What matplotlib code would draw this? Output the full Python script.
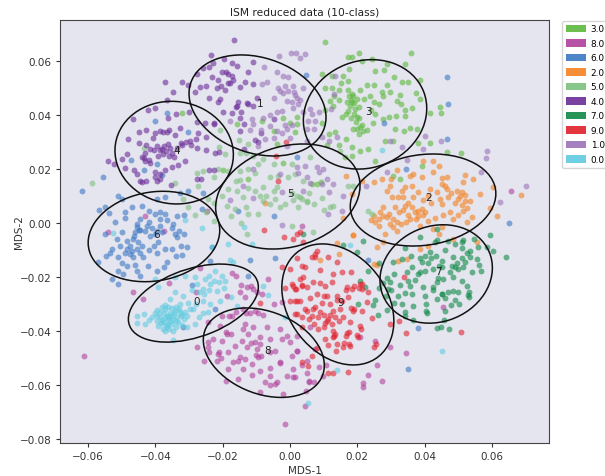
import matplotlib
matplotlib.use("Agg")
import matplotlib.pyplot as plt
from matplotlib.patches import Ellipse, Patch
import numpy as np

# points, one list per class
class_3 = [(.0103,.0673),(.0173,.0617),(.0183,.0614),(.0206,.0632),(.0358,.0630),(.0342,.0590),(.0289,.0590),(.0243,.0609),(.0213,.0602),(.0095,.0553),(.0124,.0544),(.0176,.0570),(.0252,.0565),(.0280,.0567),(.0158,.0544),(.0173,.0528),(.0310,.0541),(.0332,.0522),(.0351,.0522),(.0386,.0531),(.0124,.0499),(.0144,.0492),(.0173,.0495),(.0208,.0495),(.0228,.0512),(.0248,.0511),(.0287,.0511),(.0188,.0472),(.0238,.0472),(.0272,.0485),(.0297,.0485),(.0327,.0476),(.0374,.0481),(.0386,.0460),(.0119,.0451),(.0129,.0435),(.0183,.0448),(.0193,.0423),(.0173,.0417),(.0317,.0454),(.0361,.0425),(.0444,.0429),(.0416,.0408),(.0448,.0408),(.0315,.0398),(.0342,.0398),(.0252,.0404),(.0198,.0392),(.0153,.0392),(.0208,.0355),(.0218,.0342),(.0188,.0349),(.0246,.0371),(.0312,.0349),(.0337,.0343),(.0356,.0353),(.0376,.0349),(.0282,.0306),(.0307,.0306),(.0381,.0296),(.0416,.0296),(.0206,.0330),(.0134,.0336),(.0117,.0330),(.0208,.0268),(.0233,.0275),(.0183,.0281),(.0183,.0250),(.0163,.0246),(.0252,.0231),(.0465,.0262),(.0507,.0260),(.0079,.0145),(.0064,.0145),(.0091,.0151),(.0307,.0176),(.0327,.0163),(.0391,.0213),(.0015,.0336),(-.0321,.0409),(-.0158,.0366),(-.0084,.0378),(-.0020,.0390),(.0022,.0393),(.0020,.0366),(-.0047,.0341),(.0000,.0372),(-.0040,.0294),(-.0022,.0224),(-.0124,.0163),(-.0200,.0197),
           (.0175,.0470),(.0182,.0455),(.0190,.0445),(.0178,.0435),(.0170,.0450),(.0185,.0480),(.0200,.0460),(.0205,.0430),(.0190,.0405),(.0180,.0390),(.0195,.0375),(.0205,.0390),(.0165,.0405),(.0215,.0365),(.0200,.0350),(.0230,.0345),(.0220,.0460),(.0250,.0450),(.0265,.0440),(.0275,.0470),(.0145,.0455),(.0130,.0470),(.0105,.0420),(.0095,.0370),(.0110,.0290),(.0145,.0290),(.0165,.0310),(.0240,.0420),(.0330,.0440),(.0340,.0420),(.0295,.0395),(.0275,.0385),(.0105,.0500),(.0150,.0520)]
class_8 = [(-.0611,-.0492),(-.0277,-.0461),(-.0254,-.0511),(-.0243,-.0461),(-.0467,-.0257),(-.0436,-.0282),(-.0360,-.0224),(-.0280,-.0257),(-.0267,-.0167),(-.0173,-.0187),(-.0161,-.0195),(-.0109,-.0245),(-.0129,-.0239),(-.0188,-.0270),(-.0149,-.0257),(-.0134,-.0276),(-.0099,-.0257),(-.0084,-.0263),(-.0243,-.0369),(-.0208,-.0381),(-.0173,-.0344),(-.0203,-.0344),(-.0119,-.0332),(-.0094,-.0332),(-.0064,-.0208),(-.0049,-.0300),(-.0025,-.0294),(-.0139,-.0393),(-.0109,-.0387),(-.0069,-.0387),(-.0188,-.0412),(-.0228,-.0431),(-.0203,-.0439),(-.0163,-.0455),(-.0144,-.0437),(-.0089,-.0424),(-.0059,-.0431),(-.0025,-.0431),(.0000,-.0443),(-.0129,-.0461),(-.0099,-.0468),(.0020,-.0474),(-.0213,-.0486),(-.0183,-.0480),(-.0149,-.0498),(-.0094,-.0498),(-.0045,-.0474),(.0005,-.0492),(-.0218,-.0511),(-.0168,-.0517),(-.0114,-.0523),(-.0030,-.0517),(.0035,-.0526),(-.0183,-.0541),(-.0139,-.0541),(-.0089,-.0548),(-.0059,-.0536),(-.0010,-.0566),(.0010,-.0570),(-.0112,-.0563),(-.0154,-.0579),(-.0191,-.0585),(-.0059,-.0566),(-.0074,-.0591),(-.0045,-.0597),(-.0089,-.0628),(-.0020,-.0634),(.0045,-.0678),(-.0015,-.0745),(.0055,-.0585),(.0050,-.0511),(.0020,-.0476),(.0008,-.0542),(.0015,-.0570),(.0050,-.0557),(.0057,-.0589),(.0071,-.0588),(.0046,-.0622),(.0097,-.0567),(.0086,-.0533),(.0107,-.0526),(.0020,-.0418),(.0059,-.0387),(.0074,-.0468),(.0252,-.0437),(.0297,-.0461),(.0345,-.0484),(.0259,-.0526),(.0233,-.0563),(.0272,-.0585),(.0218,-.0595),(.0218,-.0607),(.0453,-.0313),(.0208,-.0424),(-.0432,.0027),(-.0247,.0043),(-.0539,-.0035),(.0655,.0118),(.0035,-.0010),(-.0374,-.0028),
           (-.0180,-.0345),(-.0160,-.0330),(-.0140,-.0320),(-.0130,-.0335),(-.0105,-.0325),(-.0080,-.0340),(-.0190,-.0405),(-.0175,-.0410),(-.0135,-.0375),(-.0125,-.0410),(-.0115,-.0445),(-.0105,-.0440),(-.0090,-.0450),(-.0100,-.0490),(-.0085,-.0495),(-.0060,-.0480),(-.0030,-.0520),(-.0040,-.0590),(-.0060,-.0600),(-.0210,-.0480),(-.0205,-.0500),(-.0240,-.0480),(-.0245,-.0440),(-.0135,-.0505),(-.0155,-.0510),(-.0030,-.0395),(-.0010,-.0420),(-.0115,-.0235),(-.0145,-.0230)]
class_6 = [(-.0618,.0119),(-.0556,.0171),(-.0512,.0099),(-.0499,.0089),(-.0566,.0049),(-.0549,.0060),(-.0537,.0037),(-.0519,.0002),(-.0490,.0018),(-.0470,.0058),(-.0445,.0015),(-.0455,-.0016),(-.0460,-.0035),(-.0425,-.0010),(-.0401,.0033),(-.0386,.0039),(-.0371,.0033),(-.0336,.0027),(-.0316,.0030),(-.0346,-.0004),(-.0386,-.0010),(-.0401,-.0041),(-.0341,-.0041),(-.0314,-.0041),(-.0440,.0064),(-.0396,.0089),(-.0371,.0097),(-.0326,.0113),(-.0302,.0119),(-.0257,.0113),(-.0262,.0052),(-.0472,.0234),(-.0396,.0218),(-.0381,.0179),(-.0435,.0197),(-.0402,.0378),(-.0366,.0409),(-.0302,.0337),(-.0154,.0046),(-.0049,.0027),(.0020,.0243),(.0047,.0550),(-.0569,-.0146),(-.0545,-.0121),(-.0530,-.0096),(-.0505,-.0084),(-.0483,-.0065),(-.0463,-.0047),(-.0550,-.0041),(-.0448,-.0026),(-.0416,-.0047),(-.0391,-.0072),(-.0371,-.0096),(-.0337,-.0053),(-.0307,-.0090),(-.0340,-.0121),(-.0366,-.0146),(-.0475,-.0115),(-.0465,-.0127),(-.0510,-.0127),(-.0485,-.0158),(-.0436,-.0125),(-.0421,-.0158),(-.0455,-.0177),(-.0510,-.0177),(-.0495,-.0189),(-.0530,-.0208),(-.0512,-.0226),(-.0446,-.0195),(-.0396,-.0177),(-.0292,-.0230),(-.0238,-.0140),(-.0119,-.0137),(-.0045,-.0130),(-.0126,-.0195),(-.0223,-.0319),(-.0317,-.0384),(-.0233,-.0090),(.0467,.0541),(.0469,.0442),(.0467,.0313),(.0280,.0370),(.0345,.0199),(.0651,-.0001),(.0233,-.0136),(.0350,-.0541),(.0379,-.0391),
           (-.0455,-.0005),(-.0445,-.0025),(-.0430,-.0030),(-.0410,-.0020),(-.0395,-.0030),(-.0380,-.0035),(-.0420,.0005),(-.0385,.0015),(-.0365,.0010),(-.0350,-.0020),(-.0465,-.0060),(-.0450,-.0070),(-.0440,-.0085),(-.0475,-.0085),(-.0485,-.0095),(-.0470,-.0105),(-.0455,-.0095),(-.0490,-.0110),(-.0445,-.0110),(-.0420,-.0100),(-.0405,-.0085),(-.0395,-.0110),(-.0350,-.0095),(-.0325,-.0085),(-.0330,-.0030),(-.0500,-.0035),(-.0515,-.0060),(-.0535,-.0110),(-.0500,-.0150),(-.0460,-.0155),(-.0375,-.0165),(-.0320,-.0120),(-.0490,.0040),(-.0420,.0045)]
class_2 = [(.0426,.0231),(.0396,.0231),(.0441,.0213),(.0426,.0190),(.0319,.0197),(.0356,.0176),(.0391,.0169),(.0520,.0178),(.0166,.0173),(.0213,.0157),(.0250,.0151),(.0272,.0163),(.0450,.0167),(.0465,.0169),(.0543,.0165),(.0515,.0151),(.0297,.0139),(.0342,.0132),(.0361,.0139),(.0416,.0126),(.0460,.0139),(.0604,.0133),(.0287,.0120),(.0332,.0120),(.0381,.0114),(.0495,.0120),(.0510,.0114),(.0564,.0108),(.0686,.0105),(.0183,.0108),(.0302,.0098),(.0322,.0095),(.0366,.0098),(.0446,.0089),(.0470,.0095),(.0500,.0089),(.0520,.0083),(.0277,.0058),(.0312,.0058),(.0342,.0064),(.0361,.0058),(.0391,.0052),(.0401,.0040),(.0381,.0027),(.0515,.0046),(.0594,.0054),(.0614,.0027),(.0156,.0019),(.0248,.0027),(.0267,.0040),(.0287,.0021),(.0252,.0002),(.0317,.0002),(.0297,-.0004),(.0356,.0015),(.0411,.0009),(.0485,.0015),(.0525,.0002),(.0186,-.0045),(.0282,-.0041),(.0317,-.0028),(.0386,-.0010),(.0426,-.0022),(.0450,-.0016),(.0540,.0021),(.0139,-.0075),(.0186,-.0044),(.0144,-.0115),(.0089,-.0137),(.0248,-.0152),(.0259,-.0155),(.0259,-.0090),(.0275,-.0072),(.0322,-.0140),(.0347,-.0134),(.0441,-.0041),(.0485,-.0059),(.0554,-.0072),(.0386,-.0096),(.0411,-.0084),(-.0074,.0076),
           (.0265,.0015),(.0275,.0025),(.0295,.0035),(.0305,.0015),(.0325,.0040),(.0335,.0050),(.0350,.0030),(.0370,.0040),(.0380,.0045),(.0395,.0030),(.0375,.0015),(.0345,.0005),(.0330,-.0005),(.0305,-.0015),(.0265,-.0012),(.0240,.0010),(.0450,.0145),(.0465,.0125),(.0478,.0110),(.0490,.0075),(.0505,.0100),(.0520,.0105),(.0535,.0080),(.0510,.0065),(.0525,.0055),(.0450,.0070),(.0420,.0075),(.0410,.0100),(.0435,.0115),(.0395,.0085),(.0335,.0095),(.0350,.0075),(.0300,.0165),(.0365,.0180),(.0475,.0040),(.0500,.0030),(.0455,.0030),(.0430,.0020)]
class_5 = [(-.0587,.0148),(-.0435,.0280),(-.0208,.0344),(-.0151,.0307),(-.0124,.0294),(-.0211,.0282),(-.0193,.0255),(-.0277,.0187),(-.0257,.0193),(-.0227,.0169),(-.0343,.0150),(-.0272,.0138),(-.0317,.0089),(-.0282,.0030),(-.0227,.0009),(-.0302,.0058),(-.0183,.0193),(-.0148,.0193),(-.0124,.0200),(-.0104,.0187),(-.0079,.0236),(-.0049,.0218),(-.0079,.0132),(-.0049,.0119),(-.0040,.0132),(-.0183,.0126),(-.0158,.0119),(-.0202,.0101),(-.0188,.0064),(-.0163,.0052),(-.0124,.0033),(-.0089,.0101),(-.0079,.0083),(-.0030,.0058),(.0005,-.0010),(-.0129,-.0041),(.0030,.0095),(.0049,.0083),(-.0005,.0169),(.0040,.0156),(.0020,.0101),(.0035,.0089),(.0050,.0077),(.0094,.0092),(.0129,.0064),(.0119,.0058),(.0015,.0182),(.0059,.0244),(.0149,.0268),(.0188,.0139),(.0173,.0139),(.0069,-.0035),(.0233,.0046),(.0243,.0033),
           (-.0150,.0260),(-.0130,.0260),(-.0110,.0250),(-.0095,.0220),(-.0160,.0155),(-.0125,.0130),(-.0105,.0120),(-.0070,.0100),(-.0060,.0070),(-.0045,.0090),(-.0015,.0070),(.0005,.0110),(.0010,.0085),(.0025,.0060),(.0055,.0110),(.0070,.0070),(-.0140,.0095),(-.0130,.0060),(-.0175,.0025),(-.0145,.0000),(-.0095,.0035),(-.0060,.0170),(-.0035,.0175),(.0005,.0220),(-.0150,.0160),(-.0215,.0200),(-.0245,.0090),(-.0225,.0075),(-.0250,.0040),(.0100,.0050)]
class_4 = [(-.0371,.0522),(-.0348,.0486),(-.0321,.0522),(-.0302,.0511),(-.0366,.0456),(-.0401,.0427),(-.0423,.0421),(-.0465,.0387),(-.0480,.0313),(-.0483,.0257),(-.0499,.0236),(-.0539,.0230),(-.0522,.0218),(-.0490,.0203),(-.0462,.0196),(-.0455,.0181),(-.0440,.0153),(-.0427,.0156),(-.0401,.0169),(-.0386,.0163),(-.0371,.0197),(-.0351,.0208),(-.0334,.0216),(-.0353,.0140),(-.0312,.0230),(-.0277,.0165),(-.0264,.0163),(-.0242,.0197),(-.0227,.0196),(-.0223,.0261),(-.0210,.0264),(-.0250,.0271),(-.0277,.0280),(-.0297,.0304),(-.0321,.0289),(-.0341,.0326),(-.0366,.0337),(-.0378,.0339),(-.0401,.0335),(-.0406,.0317),(-.0428,.0345),(-.0447,.0337),(-.0449,.0298),(-.0427,.0288),(-.0415,.0273),(-.0440,.0245),(-.0430,.0230),(-.0415,.0224),(-.0381,.0273),(-.0378,.0255),(-.0391,.0249),(-.0361,.0292),(-.0326,.0353),(-.0361,.0390),(-.0338,.0405),(-.0277,.0376),(-.0252,.0372),(-.0227,.0369),(-.0272,.0335),(-.0250,.0320),(-.0166,.0680),(-.0234,.0624),(-.0196,.0608),(-.0173,.0594),(-.0158,.0584),(-.0111,.0596),(-.0230,.0594),(-.0242,.0578),(-.0257,.0575),(-.0277,.0553),(-.0232,.0541),(-.0202,.0559),(-.0183,.0553),(-.0173,.0544),(-.0126,.0559),(-.0215,.0532),(-.0178,.0520),(-.0148,.0505),(-.0134,.0522),(-.0109,.0514),(-.0267,.0505),(-.0250,.0510),(-.0282,.0486),(-.0217,.0499),(-.0193,.0495),(-.0242,.0462),(-.0208,.0461),(-.0158,.0433),(-.0129,.0446),(-.0099,.0464),(-.0198,.0411),(-.0173,.0409),(-.0150,.0390),(-.0109,.0433),(-.0227,.0372),(-.0138,.0366),(-.0086,.0335),(-.0049,.0384),(-.0138,.0276),(-.0104,.0307),
           (-.0395,.0285),(-.0385,.0270),(-.0375,.0285),(-.0368,.0268),(-.0360,.0250),(-.0345,.0245),(-.0355,.0280),(-.0335,.0280),(-.0325,.0295),(-.0310,.0300),(-.0350,.0260),(-.0405,.0270),(-.0430,.0260),(-.0435,.0240),(-.0420,.0235),(-.0400,.0190),(-.0385,.0180),(-.0445,.0155),(-.0395,.0155),(-.0385,.0340),(-.0360,.0345),(-.0295,.0290),(-.0280,.0310),(-.0300,.0410),(-.0190,.0560),(-.0205,.0510),(-.0170,.0530),(-.0160,.0430),(-.0145,.0410),(-.0185,.0520),(-.0155,.0450),(-.0215,.0450),(-.0125,.0440),(-.0150,.0340),(-.0095,.0300)]
class_7 = [(.0594,-.0044),(.0642,-.0126),(.0604,-.0105),(.0584,-.0090),(.0559,-.0088),(.0545,-.0059),(.0515,-.0063),(.0490,-.0078),(.0510,-.0093),(.0535,-.0103),(.0460,-.0100),(.0436,-.0022),(.0436,-.0063),(.0386,-.0051),(.0342,-.0093),(.0359,-.0121),(.0401,-.0121),(.0434,-.0121),(.0416,-.0109),(.0391,-.0146),(.0450,-.0140),(.0485,-.0127),(.0535,-.0127),(.0307,-.0146),(.0332,-.0134),(.0361,-.0162),(.0347,-.0180),(.0381,-.0189),(.0401,-.0179),(.0424,-.0171),(.0441,-.0158),(.0475,-.0183),(.0500,-.0171),(.0515,-.0165),(.0566,-.0177),(.0540,-.0183),(.0485,-.0202),(.0455,-.0208),(.0436,-.0220),(.0510,-.0214),(.0289,-.0204),(.0297,-.0220),(.0327,-.0230),(.0349,-.0216),(.0356,-.0233),(.0394,-.0239),(.0426,-.0236),(.0525,-.0233),(.0485,-.0251),(.0500,-.0257),(.0277,-.0224),(.0265,-.0241),(.0342,-.0261),(.0361,-.0263),(.0401,-.0270),(.0450,-.0263),(.0470,-.0257),(.0530,-.0276),(.0436,-.0282),(.0477,-.0303),(.0503,-.0300),(.0366,-.0307),(.0332,-.0300),(.0309,-.0296),(.0203,-.0300),(.0252,-.0286),(.0246,-.0304),(.0287,-.0323),(.0262,-.0340),(.0342,-.0346),(.0408,-.0332),(.0460,-.0325),(.0364,-.0360),(.0436,-.0391),(.0448,-.0387),(.0473,-.0392),(.0457,-.0359),(.0208,-.0216),(.0233,-.0177),(.0292,-.0245),(.0223,-.0239),(.0156,-.0080),(.0198,-.0109),(.0218,-.0068),(.0040,-.0041),
           (.0480,-.0160),(.0490,-.0165),(.0495,-.0150),(.0450,-.0165),(.0420,-.0130),(.0410,-.0150),(.0385,-.0130),(.0510,-.0130),(.0525,-.0110),(.0520,-.0145),(.0560,-.0155),(.0555,-.0135),(.0530,-.0255),(.0528,-.0268),(.0452,-.0262),(.0440,-.0205),(.0425,-.0250),(.0405,-.0325),(.0405,-.0300),(.0340,-.0330),(.0300,-.0250),(.0320,-.0270),(.0285,-.0270),(.0310,-.0190),(.0265,-.0150),(.0370,-.0210),(.0385,-.0180),(.0510,-.0070),(.0470,-.0065),(.0430,-.0070),(.0460,-.0280),(.0490,-.0285)]
class_9 = [(.0030,-.0035),(.0010,-.0059),(.0040,-.0072),(.0074,-.0115),(.0114,-.0127),(.0064,-.0127),(.0139,-.0146),(.0035,-.0158),(.0089,-.0174),(.0129,-.0189),(.0155,-.0180),(.0181,-.0183),(.0030,-.0208),(.0040,-.0202),(.0069,-.0220),(.0089,-.0224),(.0104,-.0233),(.0124,-.0220),(.0010,-.0233),(.0018,-.0245),(.0050,-.0239),(.0168,-.0239),(.0183,-.0245),(.0208,-.0226),(.0213,-.0245),(.0079,-.0263),(.0109,-.0270),(.0139,-.0270),(.0233,-.0257),(.0030,-.0288),(.0015,-.0288),(.0094,-.0297),(.0119,-.0300),(.0173,-.0276),(.0228,-.0294),(.0069,-.0319),(.0050,-.0325),(.0129,-.0325),(.0149,-.0319),(.0188,-.0325),(.0213,-.0328),(.0020,-.0338),(.0084,-.0350),(.0114,-.0356),(.0158,-.0350),(.0178,-.0369),(.0243,-.0354),(.0104,-.0372),(.0035,-.0387),(.0084,-.0393),(.0129,-.0400),(.0168,-.0409),(.0208,-.0381),(.0297,-.0375),(.0325,-.0365),(.0343,-.0408),(.0508,-.0406),(.0129,-.0424),(.0203,-.0424),(.0178,-.0455),(.0104,-.0431),(.0139,-.0449),(.0158,-.0461),(.0137,-.0476),(.0248,-.0461),(.0079,-.0465),(.0064,-.0495),(.0114,-.0451),(.0035,-.0517),(.0054,-.0529),(.0112,-.0558),(.0127,-.0558),(.0173,-.0553),(.0339,-.0199),(-.0077,-.0026),(-.0037,.0157),(.0020,-.0041),(-.0013,.0301),(-.0042,.0250),(-.0018,-.0053),(-.0025,-.0165),(.0005,-.0226),(.0015,-.0245),(.0035,-.0233),(.0000,-.0291),(.0020,-.0288),(.0035,-.0350),(-.0089,-.0295),(.0045,-.0165),(.0015,-.0338),
           (.0100,-.0340),(.0110,-.0365),(.0120,-.0340),(.0135,-.0350),(.0145,-.0365),(.0100,-.0385),(.0125,-.0375),(.0135,-.0410),(.0130,-.0420),(.0165,-.0420),(.0175,-.0405),(.0160,-.0445),(.0175,-.0450),(.0200,-.0415),(.0210,-.0395),(.0190,-.0320),(.0180,-.0315),(.0165,-.0250),(.0190,-.0235),(.0205,-.0240),(.0215,-.0225),(.0100,-.0270),(.0075,-.0125),(.0080,-.0105),(.0140,-.0285),(.0155,-.0290),(.0060,-.0280),(.0075,-.0310),(.0090,-.0330),(.0065,-.0345),(.0055,-.0355),(.0070,-.0375),(.0045,-.0320),(.0035,-.0230),(.0255,-.0450),(-.0015,-.0240),(.0000,-.0170),(.0020,-.0130)]
class_1 = [(-.0033,.0618),(.0002,.0629),(.0017,.0630),(.0045,.0627),(.0030,.0612),(-.0077,.0578),(-.0040,.0560),(-.0020,.0544),(-.0005,.0541),(-.0069,.0523),(-.0084,.0516),(-.0030,.0491),(-.0020,.0483),(.0010,.0507),(.0038,.0501),(-.0049,.0464),(.0020,.0464),(-.0010,.0452),(-.0040,.0413),(-.0025,.0415),(.0010,.0425),(-.0114,.0384),(-.0109,.0366),(-.0079,.0388),(-.0025,.0335),(-.0010,.0347),(.0000,.0314),(-.0049,.0316),(-.0119,.0344),(-.0094,.0286),(-.0010,.0286),(.0049,.0304),(.0020,.0206),(.0025,.0184),(.0049,.0169),(-.0178,.0378),(-.0109,.0200),(-.0140,.0138),(-.0178,.0086),(-.0109,.0091),(-.0025,-.0007),(.0134,.0547),(.0121,.0423),(.0059,.0423),(.0064,.0404),(.0074,.0380),(.0054,.0380),(.0030,.0456),(.0012,.0485),(.0117,.0306),(.0139,.0320),(.0332,.0283),(.0297,.0306),(.0396,.0275),(.0448,.0303),(.0401,.0324),(.0584,.0268),(.0581,.0241),(.0701,.0139),(.0624,.0077),(.0567,.0188),(.0347,.0234),(.0287,.0188),(.0226,.0136),(.0099,.0200),(.0079,.0209),(.0045,.0213),(.0114,.0033),(.0153,.0046),(.0158,.0102),(.0129,.0145),
           (.0005,.0450),(-.0035,.0500),(-.0015,.0510),(-.0005,.0490),(.0015,.0475),(.0025,.0440),(.0040,.0410),(.0050,.0350),(.0005,.0365),(-.0015,.0365),(-.0060,.0400),(-.0085,.0345),(-.0075,.0310),(.0070,.0350),(.0085,.0410),(.0095,.0320),(.0085,.0190),(.0110,.0165),(.0095,.0145),(-.0030,.0180),(-.0025,.0115),(.0115,.0115),(.0060,.0150),(.0040,.0120),(-.0060,.0360),(-.0040,.0340),(.0130,.0480)]
class_0 = [(-.0525,-.0038),(-.0183,-.0078),(-.0114,-.0078),(-.0233,-.0090),(-.0178,-.0137),(-.0168,-.0146),(-.0223,-.0177),(-.0253,-.0208),(-.0282,-.0202),(-.0312,-.0195),(-.0342,-.0202),(-.0401,-.0208),(-.0391,-.0239),(-.0203,-.0195),(-.0238,-.0226),(-.0258,-.0245),(-.0218,-.0251),(-.0193,-.0214),(-.0342,-.0257),(-.0357,-.0282),(-.0317,-.0270),(-.0302,-.0295),(-.0327,-.0300),(-.0287,-.0319),(-.0381,-.0313),(-.0401,-.0332),(-.0371,-.0319),(-.0356,-.0332),(-.0342,-.0325),(-.0322,-.0338),(-.0366,-.0344),(-.0386,-.0350),(-.0347,-.0356),(-.0307,-.0344),(-.0376,-.0369),(-.0361,-.0375),(-.0332,-.0369),(-.0391,-.0381),(-.0371,-.0400),(-.0347,-.0400),(-.0307,-.0387),(-.0282,-.0375),(-.0455,-.0344),(-.0455,-.0372),(-.0431,-.0375),(-.0433,-.0337),(-.0347,-.0433),(-.0258,-.0332),(-.0238,-.0300),(-.0208,-.0288),(-.0158,-.0307),(-.0258,-.0288),(-.0079,-.0235),(-.0064,-.0267),(-.0015,-.0350),(.0054,-.0666),(.0139,-.0544),(.0450,-.0476),(.0178,-.0080),(.0274,.0271),(-.0312,.0011),(-.0262,-.0020),(-.0138,-.0016),(-.0375,-.0335),(-.0361,-.0355),(-.0350,-.0345),(-.0380,-.0360),(-.0335,-.0350),(-.0365,-.0385),(-.0350,-.0375),(-.0395,-.0345),(-.0330,-.0320),(-.0315,-.0355),
           (-.0395,-.0322),(-.0385,-.0330),(-.0372,-.0305),(-.0362,-.0312),(-.0350,-.0315),(-.0338,-.0310),(-.0328,-.0330),(-.0345,-.0335),(-.0358,-.0345),(-.0372,-.0352),(-.0383,-.0370),(-.0368,-.0378),(-.0355,-.0365),(-.0340,-.0362),(-.0325,-.0345),(-.0312,-.0330),(-.0298,-.0320),(-.0378,-.0392),(-.0358,-.0395),(-.0340,-.0385),(-.0322,-.0378),(-.0410,-.0350),(-.0420,-.0360),(-.0395,-.0365),(-.0270,-.0255),(-.0255,-.0265),(-.0240,-.0250),(-.0225,-.0215),(-.0210,-.0220),(-.0240,-.0195),(-.0275,-.0225),(-.0290,-.0250),(-.0195,-.0240),(-.0175,-.0275),(-.0280,-.0300),(-.0270,-.0350),(-.0245,-.0330)]

class_labels = ["3.0", "8.0", "6.0", "2.0", "5.0", "4.0", "7.0", "9.0", "1.0", "0.0"]
class_points = [class_3, class_8, class_6, class_2, class_5, class_4, class_7, class_9, class_1, class_0]
class_colors = ["#5cb83c", "#b0409a", "#3a78c2", "#f58220", "#7cc07c", "#6a2c96", "#0f8a46", "#e2202c", "#9a72b8", "#5fcbe0"]

# fitted clusters: centre, covariance terms, label spot
cluster_ids = [0, 1, 2, 3, 4, 5, 6, 7, 8, 9]
center_x = [-.0287, -.00965, .0395, .02228, -.0344, -.00065, -.0404, .0434, -.00778, .0142]
center_y = [-.0297, .0436, .00853, .0403, .0261, .00983, -.0050, -.0189, -.0481, -.0302]
extent_x = [.0193, .02034, .02162, .01832, .01758, .02144, .01954, .01669, .01797, .01663]
extent_y = [.01447, .01874, .01707, .0203, .01904, .01948, .01677, .01825, .01659, .02245]
cross = [1.147e-4, -9.0e-5, 5.07e-5, 4.04e-5, -1.4e-5, 8.7e-5, 4.48e-5, 3.8e-5, -8.5e-5, -1.03e-4]
label_x = [-.0276, -.0089, .0410, .0232, -.0336, .0000, -.0395, .0442, -.0068, .0151]
label_y = [-.0289, .0445, .0096, .0416, .0271, .0111, -.0041, -.0178, -.0471, -.0293]


def draw_cluster(ax, cx, cy, ex, ey, sxy):
    # ellipse from the covariance, same way a GMM plot does it
    vals, vecs = np.linalg.eigh([[ex ** 2, sxy], [sxy, ey ** 2]])
    angle = np.degrees(np.arctan2(vecs[1, 1], vecs[0, 1]))
    ell = Ellipse((cx, cy), 2 * np.sqrt(vals[1]), 2 * np.sqrt(vals[0]), angle=angle,
                  fill=False, edgecolor="#111111", linewidth=1.1, zorder=5)
    ax.add_patch(ell)


fig = plt.figure(figsize=(6.05, 4.77), dpi=100)
ax = fig.add_axes([60 / 605, 33 / 477, 489 / 605, 423 / 477])
ax.set_facecolor("#e5e5f0")

for pts, color in zip(class_points, class_colors):
    arr = np.array(pts)
    ax.scatter(arr[:, 0], arr[:, 1], s=18, color=color, alpha=0.6, linewidths=0)

for item in zip(center_x, center_y, extent_x, extent_y, cross):
    draw_cluster(ax, *item)
for cid, lx, ly in zip(cluster_ids, label_x, label_y):
    ax.text(lx, ly, str(cid), ha="center", va="center", fontsize=7.5, color="#222222", zorder=6)

ax.set_xlim(-0.0683, 0.0769)
ax.set_ylim(-0.0816, 0.0753)
ax.set_xticks([-0.06, -0.04, -0.02, 0.0, 0.02, 0.04, 0.06])
ax.set_yticks([-0.08, -0.06, -0.04, -0.02, 0.0, 0.02, 0.04, 0.06])
ax.tick_params(labelsize=7.5, length=3, width=0.8, colors="#333333", pad=3)
for spine in ax.spines.values():
    spine.set_color("#444444")
ax.set_title("ISM reduced data (10-class)", fontsize=7.7, pad=4, color="#222222")
ax.set_xlabel("MDS-1", fontsize=7.5, labelpad=3, color="#333333")
ax.set_ylabel("MDS-2", fontsize=7.5, labelpad=-3, color="#333333")

handles = [Patch(facecolor=c, alpha=0.9, label=l) for c, l in zip(class_colors, class_labels)]
ax.legend(handles=handles, loc="upper left", bbox_to_anchor=(1.027, 0.998), borderaxespad=0,
          fontsize=6.4, handlelength=2.25, handleheight=0.9, labelspacing=0.62, borderpad=0.4, handletextpad=0.55)

fig.savefig("out.png", dpi=100)
